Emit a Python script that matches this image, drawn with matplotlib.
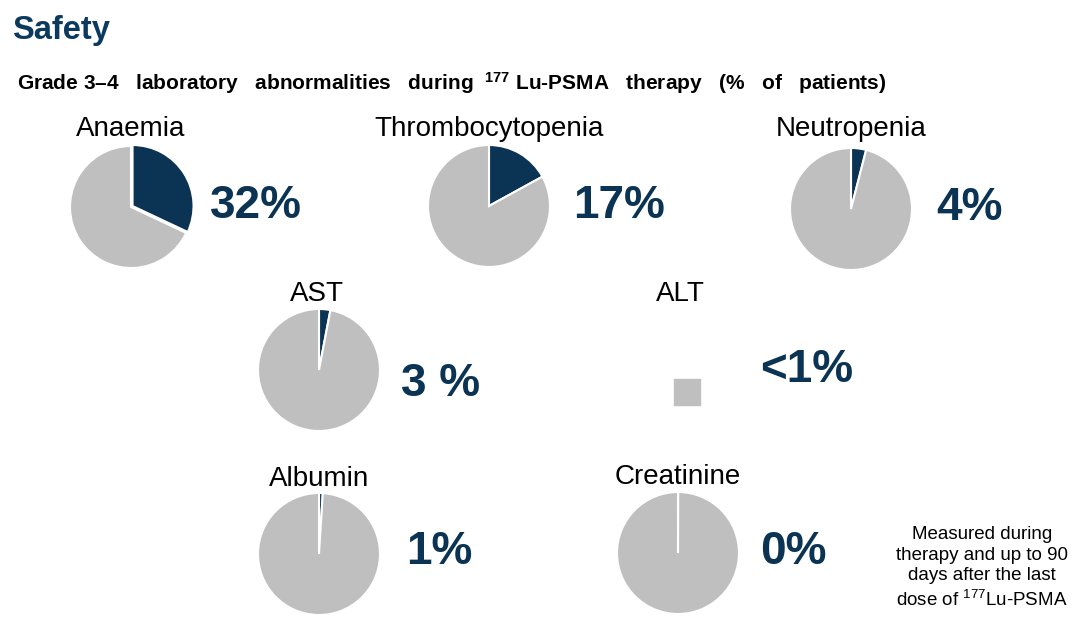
import matplotlib
matplotlib.use("Agg")
import matplotlib.pyplot as plt

plt.rcParams['font.family'] = ['Liberation Sans', 'DejaVu Sans']
plt.rcParams['mathtext.fontset'] = 'custom'
plt.rcParams['mathtext.rm'] = 'Liberation Sans'
plt.rcParams['mathtext.bf'] = 'Liberation Sans:bold'

# datos de la diapositiva
nombres = ['Anaemia', 'Thrombocytopenia', 'Neutropenia', 'AST', 'ALT', 'Albumin', 'Creatinine']
valores = [32, 17, 4, 3, 0.5, 1, 0]
etiquetas = ['32%', '17%', '4%', '3 %', '<1%', '1%', '0%']

oscuro = '#0b3354'
gris = '#bfbfbf'

W, H = 1080, 628
# centros en pixeles (x, y desde arriba)
centros = [(131, 207), (489, 206), (851, 209), (319, 370), (687, 392), (319, 554), (678, 553)]
pos_titulo = [(131, 129), (489, 129), (851, 129), (317, 294), (680, 294), (319, 479), (678, 477)]
pos_pct = [(210, 206), (573, 206), (936, 208), (401, 384), (760, 370), (406, 552), (760, 552)]
radio = 61

fig = plt.figure(figsize=(W / 100, H / 100), dpi=100)


def fx(x):
    return x / W


def fy(y):
    return 1 - y / H


for i, nombre in enumerate(nombres):
    cx, cy = centros[i]
    ax = fig.add_axes([fx(cx - radio), fy(cy + radio), 2 * radio / W, 2 * radio / H])
    ax.axis('off')
    if nombre == 'ALT':
        # el grafico de ALT aparece como un cuadrado gris
        ax.scatter([0], [0], marker='s', s=350, color=gris)
    else:
        v = max(valores[i], 0.05)  # 0% deja solo la linea blanca
        expl = [0.03 if v > 20 else 0, 0]
        ax.pie([v, 100 - v], colors=[oscuro, gris], startangle=90, counterclock=False,
               explode=expl, radius=1,
               wedgeprops=dict(edgecolor='white', linewidth=1.5))
    ax.set_xlim(-1, 1)
    ax.set_ylim(-1, 1)
    tx, ty = pos_titulo[i]
    fig.text(fx(tx), fy(ty), nombre, ha='center', va='center', fontsize=20, color='black')
    px, py = pos_pct[i]
    fig.text(fx(px), fy(py), etiquetas[i], ha='left', va='center', fontsize=33,
             fontweight='bold', color=oscuro)

fig.text(fx(12), fy(30), 'Safety', ha='left', va='center', fontsize=23.5,
         fontweight='bold', color='#0b3a5e')
fig.text(fx(17), fy(83),
         r'Grade 3–4   laboratory   abnormalities   during  $\mathbf{^{177}}$ Lu-PSMA   therapy   (%   of   patients)',
         ha='left', va='center', fontsize=15, fontweight='bold', color='black')
fig.text(fx(982), fy(568),
         'Measured during\ntherapy and up to 90\ndays after the last\ndose of $^{177}$Lu-PSMA',
         ha='center', va='center', fontsize=13.5, linespacing=1.3, color='black')

fig.savefig('out.png', dpi=100, facecolor='white')
